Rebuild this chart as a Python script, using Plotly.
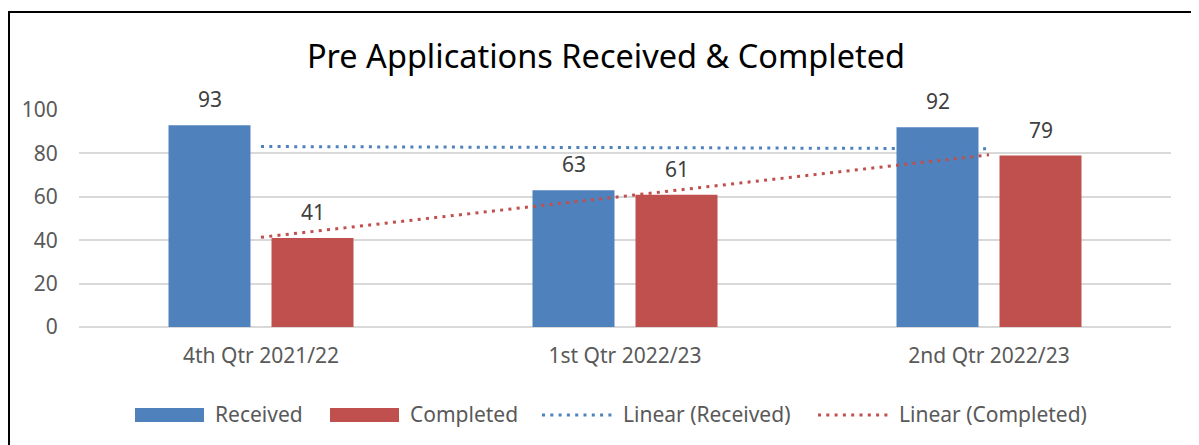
import numpy as np
import plotly.graph_objects as go

# ---- data ----
categories = ["4th Qtr 2021/22", "1st Qtr 2022/23", "2nd Qtr 2022/23"]
received = [93, 63, 92]
completed = [41, 61, 79]
series_names = ["Received", "Completed", "Linear (Received)", "Linear (Completed)"]
title_text = "Pre Applications Received & Completed"
y_ticks = [0, 20, 40, 60, 80, 100]

BLUE = "#4F81BD"
RED = "#C0504D"
FONT = "Noto Sans"

# the page body adds an 8px margin; lay out in screen pixels and compensate
OFF = 8
VW, VH = 1199, 445
W, H = VW - OFF, VH - OFF
# plot area in screen pixels
PX0, PX1, PY0, PY1 = 79, 1171, 110, 327
L, R, T, B = PX0 - OFF, W - (PX1 - OFF), PY0 - OFF, H - (PY1 - OFF)
PW, PH = PX1 - PX0, PY1 - PY0


def px(x):
    return (x - PX0) / PW


def py(y):
    return (PY1 - y) / PH


# linear trendlines (least squares, like Excel)
xi = np.arange(1, len(categories) + 1)
fit_r = np.polyval(np.polyfit(xi, received, 1), xi)
fit_c = np.polyval(np.polyfit(xi, completed, 1), xi)

DOT = "3px,5.3px"

fig = go.Figure()
fig.add_trace(go.Bar(x=categories, y=received, name=series_names[0], marker_color=BLUE,
                     marker_line_width=0, showlegend=False))
fig.add_trace(go.Bar(x=categories, y=completed, name=series_names[1], marker_color=RED,
                     marker_line_width=0, showlegend=False))
fig.add_trace(go.Scatter(x=categories, y=fit_r, name=series_names[2], mode="lines",
                         line=dict(color=BLUE, width=3, dash=DOT), showlegend=False))
fig.add_trace(go.Scatter(x=categories, y=fit_c, name=series_names[3], mode="lines",
                         line=dict(color=RED, width=3, dash=DOT), showlegend=False))

annotations = []
# data labels
offset = 51.5
for vals, sh in ((received, -offset), (completed, offset)):
    for c, v in zip(categories, vals):
        annotations.append(dict(x=c, y=v, xref="x", yref="y", text=str(v), showarrow=False,
                                xshift=sh, yshift=10, yanchor="bottom",
                                font=dict(family=FONT, size=21, color="#404040")))

shapes = []
# outer chart border (left edge kept just inside the figure)
shapes.append(dict(type="rect", xref="paper", yref="paper", x0=px(9), x1=px(1215),
                   y0=py(470), y1=py(12), line=dict(color="black", width=2),
                   fillcolor="rgba(0,0,0,0)", layer="below"))

# custom legend
leg_y = 415
items = [
    ("box", BLUE, 135, 204, 213),
    ("box", RED, 330, 399, 408),
    ("dot", BLUE, 542, 613, 621),
    ("dot", RED, 818, 890, 897),
]
for (kind, col, x0, x1, tx), name in zip(items, series_names):
    if kind == "box":
        shapes.append(dict(type="rect", xref="paper", yref="paper", x0=px(x0), x1=px(x1),
                           y0=py(leg_y + 7), y1=py(leg_y - 7), fillcolor=col, line=dict(width=0)))
    else:
        shapes.append(dict(type="line", xref="paper", yref="paper", x0=px(x0), x1=px(x1),
                           y0=py(leg_y), y1=py(leg_y), line=dict(color=col, width=3, dash=DOT)))
    annotations.append(dict(x=px(tx), y=py(leg_y - 1), xref="paper", yref="paper", text=name,
                            showarrow=False, xanchor="left", yanchor="middle",
                            font=dict(family=FONT, size=21, color="#595959")))

fig.update_layout(
    width=W, height=H,
    margin=dict(l=L, r=R, t=T, b=B, pad=0),
    paper_bgcolor="white", plot_bgcolor="white",
    barmode="group", bargap=0.434, bargroupgap=0.204,
    title=dict(text=title_text, x=(606 - OFF) / W, xanchor="center", y=1 - (57 - OFF) / H,
               yanchor="middle", yref="container",
               font=dict(family=FONT, size=32.5, color="black")),
    showlegend=False,
    annotations=annotations,
    shapes=shapes,
    font=dict(family=FONT),
)
fig.update_xaxes(showgrid=False, showline=False, zeroline=False, ticks="outside", ticklen=10,
                 tickcolor="rgba(0,0,0,0)", tickfont=dict(family=FONT, size=21, color="#595959"),
                 range=[-0.5, 2.5])
fig.update_yaxes(range=[0, 100], tickvals=y_ticks, showgrid=True, gridcolor="#D9D9D9", gridwidth=1.5,
                 zeroline=True, zerolinecolor="#D9D9D9", zerolinewidth=1.5, showline=False,
                 ticks="outside", ticklen=16, tickcolor="rgba(0,0,0,0)",
                 tickfont=dict(family=FONT, size=21, color="#595959"))

fig.write_html("out.html")
